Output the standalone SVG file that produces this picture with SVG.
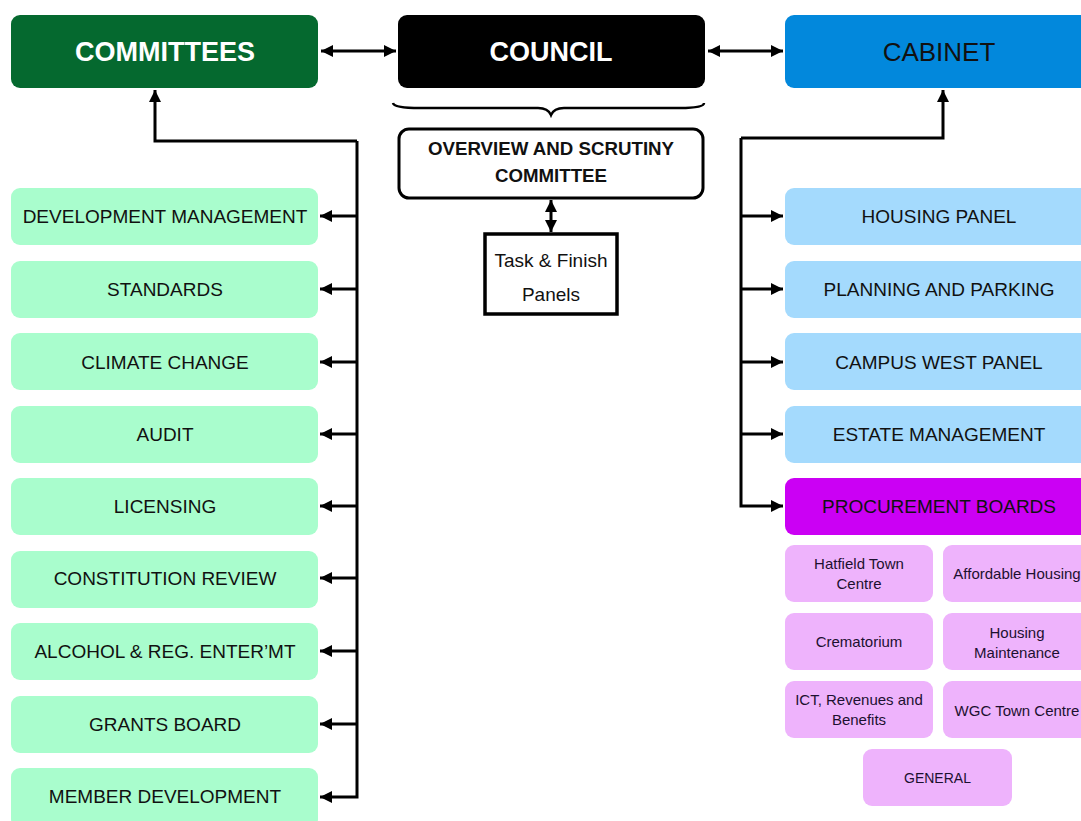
<svg xmlns="http://www.w3.org/2000/svg" width="1081" height="821" viewBox="0 0 1081 821">
<style>
.t{font-family:"Liberation Sans",Arial,sans-serif;text-anchor:middle;}
.hd{font-size:27px;font-weight:bold;fill:#fff;}
.cab{font-size:26px;fill:#111;}
.bx{font-size:19px;fill:#111;}
.sm{font-size:15px;fill:#1c1030;}
.lg{fill:#a9fdcd;}
.lb{fill:#a4dafd;}
.pk{fill:#eeb3fc;}
.ln{fill:none;stroke:#000;stroke-width:3;}
</style>
<defs>
<marker id="ah" viewBox="0 0 10 10" refX="10" refY="5" markerUnits="userSpaceOnUse" markerWidth="12" markerHeight="12" orient="auto-start-reverse">
<path d="M0,0 L10,5 L0,10 z" fill="#000"/>
</marker>
</defs>
<rect width="1081" height="821" fill="#fff"/>

<g id="committees"><rect x="11" y="15" width="307" height="73" rx="9" fill="#05692f"/><text class="t hd" x="165" y="61">COMMITTEES</text></g>
<g id="council"><rect x="398" y="15" width="307" height="73" rx="9" fill="#000"/><text class="t hd" x="551" y="61">COUNCIL</text></g>
<g id="cabinet"><rect x="785" y="15" width="310" height="73" rx="9" fill="#0288dc"/><text class="t cab" x="939" y="61">CABINET</text></g>

<g id="brace"><path d="M393,103 Q394,108 420,108 L538,108 Q548,108 551,115 Q554,108 564,108 L680,108 Q704,108 704,103" fill="none" stroke="#000" stroke-width="2.5"/></g>

<g id="overview"><rect x="399" y="129" width="304" height="69" rx="10" fill="#fff" stroke="#000" stroke-width="3"/>
<text class="t" x="551" y="155" font-size="18.7" font-weight="bold" fill="#111">OVERVIEW AND SCRUTINY</text>
<text class="t" x="551" y="182" font-size="18.7" font-weight="bold" fill="#111">COMMITTEE</text></g>

<g id="taskfinish"><rect x="485" y="234" width="132" height="80" fill="#fff" stroke="#000" stroke-width="3.5"/>
<text class="t" x="551" y="267" font-size="19" fill="#111">Task &amp; Finish</text>
<text class="t" x="551" y="301" font-size="19" fill="#111">Panels</text></g>

<g id="left-boxes">
<g id="dev"><rect class="lg" x="11" y="188" width="307" height="57" rx="9"/><text class="t bx" x="165" y="223">DEVELOPMENT MANAGEMENT</text></g>
<g id="standards"><rect class="lg" x="11" y="261" width="307" height="57" rx="9"/><text class="t bx" x="165" y="296">STANDARDS</text></g>
<g id="climate"><rect class="lg" x="11" y="333" width="307" height="57" rx="9"/><text class="t bx" x="165" y="369">CLIMATE CHANGE</text></g>
<g id="audit"><rect class="lg" x="11" y="406" width="307" height="57" rx="9"/><text class="t bx" x="165" y="441">AUDIT</text></g>
<g id="licensing"><rect class="lg" x="11" y="478" width="307" height="57" rx="9"/><text class="t bx" x="165" y="513">LICENSING</text></g>
<g id="constitution"><rect class="lg" x="11" y="551" width="307" height="57" rx="9"/><text class="t bx" x="165" y="585">CONSTITUTION REVIEW</text></g>
<g id="alcohol"><rect class="lg" x="11" y="623" width="307" height="57" rx="9"/><text class="t bx" x="165" y="658">ALCOHOL &amp; REG. ENTER’MT</text></g>
<g id="grants"><rect class="lg" x="11" y="696" width="307" height="57" rx="9"/><text class="t bx" x="165" y="731">GRANTS BOARD</text></g>
<g id="member"><rect class="lg" x="11" y="768" width="307" height="60" rx="9"/><text class="t bx" x="165" y="803">MEMBER DEVELOPMENT</text></g>
</g>

<g id="right-boxes">
<g id="housing"><rect class="lb" x="785" y="188" width="310" height="57" rx="9"/><text class="t bx" x="939" y="223">HOUSING PANEL</text></g>
<g id="planning"><rect class="lb" x="785" y="261" width="310" height="57" rx="9"/><text class="t bx" x="939" y="296">PLANNING AND PARKING</text></g>
<g id="campus"><rect class="lb" x="785" y="333" width="310" height="57" rx="9"/><text class="t bx" x="939" y="369">CAMPUS WEST PANEL</text></g>
<g id="estate"><rect class="lb" x="785" y="406" width="310" height="57" rx="9"/><text class="t bx" x="939" y="441">ESTATE MANAGEMENT</text></g>
<g id="procurement"><rect x="785" y="478" width="310" height="57" rx="9" fill="#cb00f4"/><text class="t bx" x="939" y="513" fill="#1a0030">PROCUREMENT BOARDS</text></g>
</g>

<g id="proc-boards">
<g id="hatfield"><rect class="pk" x="785" y="545" width="148" height="57" rx="9"/><text class="t sm" x="859" y="569">Hatfield Town</text><text class="t sm" x="859" y="589">Centre</text></g>
<g id="affordable"><rect class="pk" x="943" y="545" width="150" height="57" rx="9"/><text class="t sm" x="1017" y="579">Affordable Housing</text></g>
<g id="crematorium"><rect class="pk" x="785" y="613" width="148" height="57" rx="9"/><text class="t sm" x="859" y="647">Crematorium</text></g>
<g id="housingmaint"><rect class="pk" x="943" y="613" width="150" height="57" rx="9"/><text class="t sm" x="1017" y="638">Housing</text><text class="t sm" x="1017" y="658">Maintenance</text></g>
<g id="ict"><rect class="pk" x="785" y="681" width="148" height="57" rx="9"/><text class="t sm" x="859" y="705">ICT, Revenues and</text><text class="t sm" x="859" y="725">Benefits</text></g>
<g id="wgc"><rect class="pk" x="943" y="681" width="150" height="57" rx="9"/><text class="t sm" x="1017" y="716">WGC Town Centre</text></g>
<g id="general"><rect class="pk" x="863" y="749" width="149" height="57" rx="9"/><text class="t" x="937.5" y="783" font-size="14" fill="#1c1030">GENERAL</text></g>
</g>

<g id="connectors">
<line class="ln" x1="321" y1="51" x2="396" y2="51" marker-start="url(#ah)" marker-end="url(#ah)"/>
<line class="ln" x1="708" y1="51" x2="783" y2="51" marker-start="url(#ah)" marker-end="url(#ah)"/>
<line class="ln" x1="551" y1="200" x2="551" y2="232" marker-start="url(#ah)" marker-end="url(#ah)"/>
<path class="ln" d="M357,141 L155,141 L155,90" marker-end="url(#ah)"/>
<path class="ln" d="M357,141 L357,797 L320,797" marker-end="url(#ah)"/>
<line class="ln" x1="357" y1="216" x2="320" y2="216" marker-end="url(#ah)"/>
<line class="ln" x1="357" y1="289" x2="320" y2="289" marker-end="url(#ah)"/>
<line class="ln" x1="357" y1="362" x2="320" y2="362" marker-end="url(#ah)"/>
<line class="ln" x1="357" y1="434" x2="320" y2="434" marker-end="url(#ah)"/>
<line class="ln" x1="357" y1="506" x2="320" y2="506" marker-end="url(#ah)"/>
<line class="ln" x1="357" y1="578" x2="320" y2="578" marker-end="url(#ah)"/>
<line class="ln" x1="357" y1="651" x2="320" y2="651" marker-end="url(#ah)"/>
<line class="ln" x1="357" y1="724" x2="320" y2="724" marker-end="url(#ah)"/>
<path class="ln" d="M741,138 L943,138 L943,90" marker-end="url(#ah)"/>
<path class="ln" d="M741,138 L741,506 L783,506" marker-end="url(#ah)"/>
<line class="ln" x1="741" y1="216" x2="783" y2="216" marker-end="url(#ah)"/>
<line class="ln" x1="741" y1="289" x2="783" y2="289" marker-end="url(#ah)"/>
<line class="ln" x1="741" y1="362" x2="783" y2="362" marker-end="url(#ah)"/>
<line class="ln" x1="741" y1="434" x2="783" y2="434" marker-end="url(#ah)"/>
</g>
</svg>
